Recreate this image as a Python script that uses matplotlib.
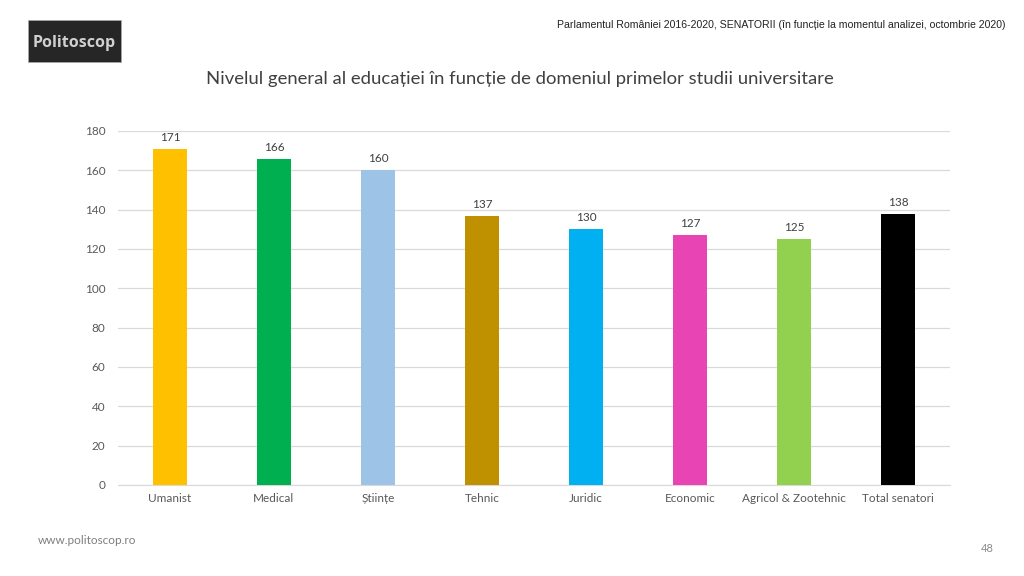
import matplotlib.pyplot as plt
from matplotlib.patches import Rectangle

categories = ["Umanist", "Medical", "Științe", "Tehnic", "Juridic", "Economic",
              "Agricol & Zootehnic", "Total senatori"]
values = [171, 166, 160, 137, 130, 127, 125, 138]
colors = ["#FFC000", "#00B050", "#9DC3E6", "#BF9000", "#00B0F0", "#E844B4",
          "#92D050", "#000000"]
yticks = [0, 20, 40, 60, 80, 100, 120, 140, 160, 180]

plt.rcParams["font.family"] = ["Lato", "DejaVu Sans"]

fig = plt.figure(figsize=(10.24, 5.76), dpi=100)
ax = fig.add_axes([0.1152, 0.158, 0.8125, 0.6146])

x = range(len(categories))
ax.bar(x, values, width=0.33, color=colors, zorder=3)
for xi, v in zip(x, values):
    ax.text(xi, v + 3, str(v), ha="center", va="bottom", fontsize=8.5, color="#404040")

ax.set_xlim(-0.5, len(categories) - 0.5)
ax.set_ylim(0, 180)
ax.set_yticks(yticks)
ax.set_xticks(list(x))
ax.set_xticklabels(categories)
ax.tick_params(axis="both", length=0, labelsize=8.5, labelcolor="#595959")
ax.tick_params(axis="y", pad=9)
ax.tick_params(axis="x", pad=6)
ax.grid(axis="y", color="#D9D9D9", linewidth=0.9, zorder=0)
for s in ["top", "right", "left"]:
    ax.spines[s].set_visible(False)
ax.spines["bottom"].set_color("#D9D9D9")

fig.text(0.508, 0.862, "Nivelul general al educației în funcție de domeniul primelor studii universitare",
         ha="center", va="center", fontsize=13.3, color="#404040")
fig.text(0.982, 0.957, "Parlamentul României 2016-2020, SENATORII (în funcție la momentul analizei, octombrie 2020)",
         ha="right", va="center", fontsize=7.6, color="#222222", family="Liberation Sans")
fig.text(0.037, 0.062, "www.politoscop.ro", ha="left", va="center", fontsize=8.5, color="#7F7F7F")
fig.text(0.964, 0.047, "48", ha="center", va="center", fontsize=8, color="#8C8C8C")

# logo
fig.patches.append(Rectangle((0.027, 0.892), 0.091, 0.073, transform=fig.transFigure,
                             facecolor="#262626", edgecolor="#AAAAAA", linewidth=0.5))
fig.text(0.0725, 0.925, "Politoscop", ha="center", va="center", fontsize=11.5,
         color="#D0D0D0", weight="bold", family="Open Sans")

fig.savefig("out.png", dpi=100)
